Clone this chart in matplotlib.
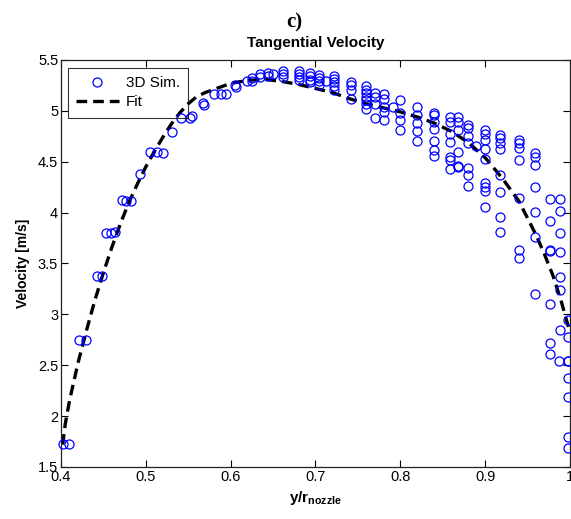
import matplotlib
import matplotlib.pyplot as plt

matplotlib.use("Agg")

plt.rcParams["font.family"] = ["Liberation Sans", "DejaVu Sans"]
plt.rcParams["mathtext.fontset"] = "custom"
plt.rcParams["mathtext.rm"] = "Liberation Sans"
plt.rcParams["mathtext.bf"] = "Liberation Sans:bold"

# 3D simulation samples
sim_x = [
    0.402, 0.410, 0.421, 0.429, 0.442, 0.448, 0.453, 0.459, 0.464,
    0.472, 0.477, 0.483, 0.493, 0.505, 0.513, 0.520, 0.531,
    0.541, 0.552, 0.555, 0.568, 0.569, 0.580, 0.589, 0.595,
    0.605, 0.606, 0.619, 0.625, 0.625, 0.635, 0.635, 0.644, 0.644, 0.650,
    0.662, 0.662, 0.662,
    0.681, 0.681, 0.681, 0.681,
    0.694, 0.694, 0.694, 0.694,
    0.704, 0.704, 0.704, 0.704, 0.712,
    0.722, 0.722, 0.722, 0.722, 0.722,
    0.742, 0.742, 0.742, 0.742,
    0.760, 0.760, 0.760, 0.760, 0.760, 0.760, 0.760,
    0.770, 0.770, 0.770, 0.770,
    0.781, 0.781, 0.781, 0.781, 0.781, 0.791,
    0.800, 0.800, 0.800, 0.800,
    0.820, 0.820, 0.820, 0.820, 0.820,
    0.840, 0.840, 0.840, 0.840, 0.840, 0.840, 0.840,
    0.858, 0.858, 0.858, 0.858, 0.858, 0.858, 0.858,
    0.868, 0.868, 0.868, 0.868, 0.868, 0.868,
    0.880, 0.880, 0.880, 0.880, 0.880, 0.880, 0.880, 0.889,
    0.900, 0.900, 0.900, 0.900, 0.900, 0.900, 0.900, 0.900, 0.900,
    0.918, 0.918, 0.918, 0.918, 0.918, 0.918, 0.918, 0.918,
    0.940, 0.940, 0.940, 0.940, 0.940, 0.940, 0.940,
    0.959, 0.959, 0.959, 0.959, 0.959, 0.959, 0.959,
    0.977, 0.977, 0.977, 0.977, 0.977, 0.977, 0.977,
    0.988, 0.988, 0.988, 0.988, 0.988, 0.988, 0.988, 0.987,
    0.998, 0.998, 0.998, 0.998, 0.998, 0.998, 0.998, 0.998,
]
sim_v = [
    1.73, 1.73, 2.75, 2.75, 3.38, 3.38, 3.80, 3.80, 3.81,
    4.12, 4.11, 4.11, 4.38, 4.60, 4.60, 4.59, 4.79,
    4.93, 4.93, 4.95, 5.08, 5.06, 5.17, 5.17, 5.17,
    5.25, 5.23, 5.29, 5.32, 5.29, 5.36, 5.33, 5.37, 5.34, 5.36,
    5.39, 5.36, 5.33,
    5.39, 5.36, 5.33, 5.30,
    5.37, 5.34, 5.30, 5.28,
    5.35, 5.32, 5.29, 5.25, 5.29,
    5.34, 5.31, 5.28, 5.24, 5.21,
    5.28, 5.25, 5.21, 5.12,
    5.24, 5.21, 5.18, 5.14, 5.11, 5.07, 5.02,
    5.18, 5.14, 5.07, 4.93,
    5.17, 5.12, 5.04, 4.99, 4.91, 5.04,
    5.11, 4.98, 4.91, 4.81,
    5.04, 4.96, 4.88, 4.80, 4.70,
    4.98, 4.96, 4.89, 4.82, 4.70, 4.62, 4.56,
    4.94, 4.89, 4.77, 4.69, 4.55, 4.52, 4.43,
    4.94, 4.89, 4.81, 4.60, 4.46, 4.45,
    4.86, 4.83, 4.75, 4.68, 4.44, 4.37, 4.26, 4.65,
    4.81, 4.77, 4.71, 4.63, 4.53, 4.29, 4.25, 4.21, 4.06,
    4.76, 4.73, 4.68, 4.63, 4.37, 4.20, 3.96, 3.81,
    4.71, 4.68, 4.64, 4.52, 4.14, 3.63, 3.55,
    4.59, 4.55, 4.47, 4.25, 4.01, 3.76, 3.20,
    4.13, 3.92, 3.63, 3.10, 2.72, 2.61, 3.62,
    4.13, 4.02, 3.80, 3.61, 3.37, 3.24, 2.85, 2.54,
    2.94, 2.78, 2.54, 2.37, 2.19, 1.79, 1.69, 2.54,
]

# fitted curve
fit_x = [0.402, 0.405, 0.41, 0.42, 0.43, 0.44, 0.45, 0.46, 0.47, 0.48,
         0.49, 0.50, 0.51, 0.52, 0.53, 0.54, 0.55, 0.56, 0.57, 0.58,
         0.60, 0.62, 0.64, 0.66, 0.68, 0.70, 0.72, 0.74, 0.76, 0.78,
         0.80, 0.82, 0.84, 0.86, 0.88, 0.90, 0.92, 0.94, 0.96, 0.97,
         0.98, 0.99, 1.00]
fit_v = [1.72, 1.92, 2.15, 2.52, 2.84, 3.14, 3.41, 3.66, 3.89, 4.10,
         4.28, 4.45, 4.60, 4.74, 4.87, 4.98, 5.07, 5.14, 5.18, 5.21,
         5.27, 5.30, 5.31, 5.29, 5.26, 5.22, 5.18, 5.12, 5.07, 5.03,
         4.99, 4.94, 4.88, 4.80, 4.69, 4.54, 4.34, 4.11, 3.78, 3.59,
         3.38, 3.12, 2.82]

x_ticks = [0.4, 0.5, 0.6, 0.7, 0.8, 0.9, 1.0]
x_labels = ["0.4", "0.5", "0.6", "0.7", "0.8", "0.9", "1"]
y_ticks = [1.5, 2, 2.5, 3, 3.5, 4, 4.5, 5, 5.5]
y_labels = ["1.5", "2", "2.5", "3", "3.5", "4", "4.5", "5", "5.5"]

fig = plt.figure(figsize=(5.71, 5.19), dpi=100)
ax = fig.add_axes([0.1068, 0.1002, 0.8914, 0.7842])

ax.plot(sim_x, sim_v, "o", mfc="none", mec="#0000ff", ms=6.5, mew=0.9,
        label="3D Sim.", clip_on=False, zorder=3)
ax.plot(fit_x, fit_v, "--", color="black", lw=2.4, dashes=(3.2, 1.8),
        label="Fit", zorder=2)

ax.set_xlim(0.4, 1.0)
ax.set_ylim(1.5, 5.5)
ax.set_xticks(x_ticks)
ax.set_xticklabels(x_labels)
ax.set_yticks(y_ticks)
ax.set_yticklabels(y_labels)
ax.tick_params(direction="in", top=True, right=True, length=5, width=0.8,
               labelsize=10.5, pad=2)
for s in ax.spines.values():
    s.set_linewidth(0.9)
    s.set_color("#222222")

ax.set_xlabel(r"$\mathbf{y/r}_{\mathbf{nozzle}}$", fontsize=11, labelpad=4)
ax.set_ylabel("Velocity [m/s]", fontsize=10, fontweight="bold", labelpad=6)
ax.set_title("Tangential Velocity", fontsize=11, fontweight="bold", pad=9)
fig.text(294 / 571, 1 - 22 / 519, "c)", family=["Liberation Serif"],
         fontsize=15, fontweight="bold", ha="center", va="center")

# legend box is see-through in the original, the fit line shows at its corner
leg = ax.legend(loc="upper left", bbox_to_anchor=(0.013, 0.981), fontsize=11,
                frameon=True, fancybox=False, borderpad=0.55,
                handlelength=2.8, handletextpad=0.45, labelspacing=0.35,
                borderaxespad=0)
leg.get_frame().set_edgecolor("black")
leg.get_frame().set_facecolor("none")
leg.get_frame().set_linewidth(0.8)

fig.savefig("out.png", dpi=100)
